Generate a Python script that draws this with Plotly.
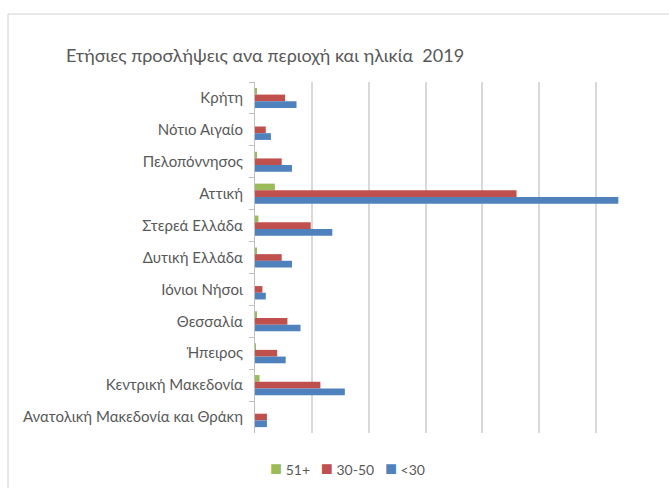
import plotly.graph_objects as go

regions = ["Κρήτη", "Νότιο Αιγαίο", "Πελοπόννησος", "Αττική", "Στερεά Ελλάδα",
           "Δυτική Ελλάδα", "Ιόνιοι Νήσοι", "Θεσσαλία", "Ήπειρος",
           "Κεντρική Μακεδονία", "Ανατολική Μακεδονία και Θράκη"]
age_51_plus = [20, 0, 20, 350, 60, 20, 0, 20, 10, 80, 0]
age_30_50 = [530, 190, 470, 4600, 980, 470, 130, 570, 390, 1150, 210]
age_under_30 = [730, 280, 650, 6390, 1360, 650, 190, 800, 540, 1580, 210]

series = [("51+", age_51_plus, "#9BBB59"),
          ("30-50", age_30_50, "#C0504D"),
          ("<30", age_under_30, "#4F81BD")]

fig = go.Figure()
for name, vals, color in series:
    fig.add_trace(go.Bar(y=regions, x=vals, name=name, orientation="h",
                         marker=dict(color=color, line=dict(width=0))))

# plot area in pixels: x 255..653, y 82..433
L, R, T, B = 255, 653, 82, 433
W, H = R - L, B - T
def px(x):
    return (x - L) / W
def py(y):
    return (B - y) / H

legend_html = "&nbsp;&nbsp;&nbsp;".join(
    f"<span style='color:{c};font-size:20px'>■</span>&nbsp;{n.replace('<', '&lt;')}"
    for n, _, c in series)

fig.update_layout(
    width=669, height=488,
    margin=dict(l=L, r=669 - R, t=T, b=488 - B, autoexpand=False),
    paper_bgcolor="white", plot_bgcolor="white",
    barmode="group", bargap=0.37, bargroupgap=0,
    showlegend=False,
    font=dict(family="Lato", color="#595959", size=14),
    title=dict(text="Ετήσιες προσλήψεις ανα περιοχή και ηλικία  2019",
               x=px(265), xanchor="center", xref="paper",
               y=1 - 56 / 488, yanchor="middle",
               font=dict(family="Lato", size=18, color="#595959")),
    xaxis=dict(range=[0, 7000], dtick=1000, showticklabels=False,
               showgrid=True, gridcolor="#D9D9D9", gridwidth=1.5,
               zeroline=False, showline=False, fixedrange=True,
               automargin=False),
    yaxis=dict(autorange="reversed", showline=True, linecolor="#BFBFBF",
               linewidth=1, ticks="outside", tickson="boundaries",
               ticklen=5, tickcolor="#BFBFBF", showgrid=False,
               ticklabelstandoff=8, automargin=False,
               tickfont=dict(family="Lato", size=15, color="#595959")),
    annotations=[dict(text=legend_html, xref="paper", yref="paper",
                      x=px(268), y=py(467), xanchor="left", yanchor="middle",
                      showarrow=False,
                      font=dict(family="Lato", size=14, color="#595959"))],
    shapes=[dict(type="rect", xref="paper", yref="paper",
                 x0=px(8), x1=px(700), y0=py(520), y1=py(14),
                 line=dict(color="#D0D0D0", width=1), layer="below")],
)

fig.write_html("out.html", config={"displayModeBar": False},
               post_script="document.body.style.margin='0';document.body.style.overflow='hidden';")
